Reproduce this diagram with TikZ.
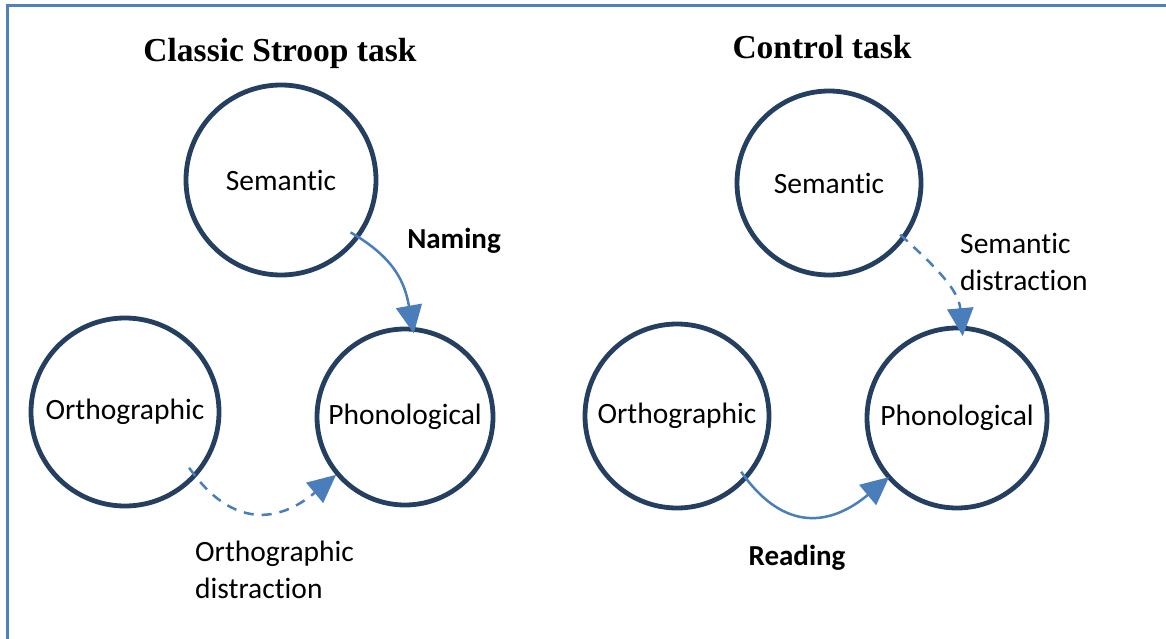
\documentclass[tikz,border=0pt]{standalone}
\usepackage{fontspec}
\setmainfont{Carlito}[Ligatures=NoCommon]
\newfontfamily\titlefont{Liberation Serif}
\usetikzlibrary{arrows.meta,calc}
\definecolor{frameblue}{HTML}{4F81BD}
\definecolor{navy}{HTML}{243F60}
\definecolor{arrblue}{HTML}{4A7EBB}
\tikzset{
  x=1pt, y=-1pt,
  concept/.style={circle, draw=navy, line width=4.8pt, inner sep=0pt, font=\fontsize{29.5}{35}\selectfont},
  link/.style={draw=arrblue, line width=2.5pt, -{Triangle[length=28pt,width=26pt]}},
  dashlink/.style={link, dash pattern=on 10pt off 8pt},
  title/.style={font=\titlefont\bfseries\fontsize{33.5}{38}\selectfont},
  lbl/.style={font=\fontsize{29.5}{37}\selectfont, align=left, inner sep=0pt},
  blbl/.style={font=\bfseries\fontsize{29}{34}\selectfont, inner sep=0pt}
}
\begin{document}
\begin{tikzpicture}
\useasboundingbox (0,0) rectangle (1166,639);
\draw[frameblue, line width=3pt] (7,645) -- (7,6) -- (1175,6);

\node[title] (t1) at (280,53) {Classic Stroop task};
\node[title] (t2) at (822,47) {Control task};

\node[concept, minimum size=190pt] (s1) at (281,180) {Semantic};
\node[concept, minimum size=188pt] (o1) at (125,412) {Orthographic};
\node[concept, minimum size=176pt] (p1) at (405,417) {Phonological};

\node[concept, minimum size=184pt] (s2) at (829,183) {Semantic};
\node[concept, minimum size=184pt] (o2) at (677,416) {Orthographic};
\node[concept, minimum size=180pt] (p2) at (957,418) {Phonological};

% connector end points (slightly inside the circle outlines); y axis points down
\coordinate (nA) at ($(s1.center)+(37:87)$);
\coordinate (nB) at ($(p1.center)+(-84:84)$);
\coordinate (oA) at ($(o1.center)+(41:85)$);
\coordinate (oB) at ($(p1.center)+(140:90)$);
\coordinate (sA) at ($(s2.center)+(36:88)$);
\coordinate (sB) at ($(p2.center)+(-86:82)$);
\coordinate (rA) at ($(o2.center)+(41:85)$);
\coordinate (rB) at ($(p2.center)+(139:90)$);

\path[link] (nA) to[out=-30, in=100, looseness=1.1] (nB);
\path[dashlink] (oA) to[out=-55, in=-140, looseness=1.3] (oB);
\path[dashlink] (sA) to[out=-42, in=95] (sB);
\path[link] (rA) to[out=-55, in=-140, looseness=1.3] (rB);

\node[blbl] (naming) at (454,241) {Naming};
\node[blbl] (reading) at (797,558) {Reading};
\node[lbl, anchor=north west] (sd) at (960,233) {Semantic\\distraction};
\node[lbl, anchor=north west] (od) at (195,541) {Orthographic\\distraction};
\end{tikzpicture}
\end{document}
